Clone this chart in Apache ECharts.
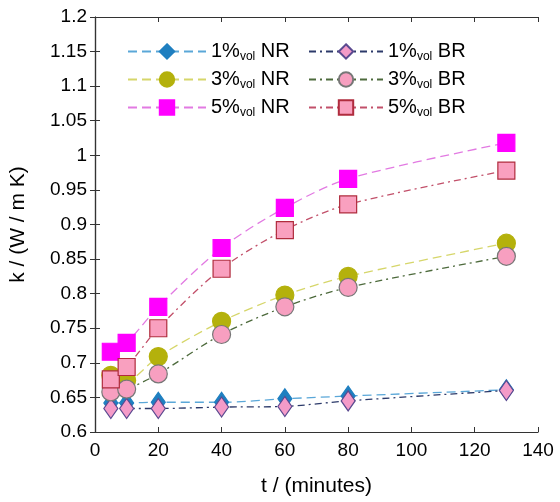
<!DOCTYPE html>
<html>
<head>
<meta charset="utf-8">
<script src="https://cdn.jsdelivr.net/npm/echarts@6/dist/echarts.min.js"></script>
<style>
  html, body { margin: 0; padding: 0; background: #fff; }
  #chart { width: 560px; height: 502px; }
</style>
</head>
<body>
<div id="chart"></div>
<script>
// 时间（分钟）
const times = [5, 10, 20, 40, 60, 80, 130]
// 各浓度导热系数
const nr1 = [0.642, 0.642, 0.643, 0.643, 0.648, 0.652, 0.661]
const nr3 = [0.682, 0.675, 0.709, 0.760, 0.798, 0.825, 0.873]
const nr5 = [0.716, 0.729, 0.781, 0.866, 0.924, 0.966, 1.018]
const br1 = [0.634, 0.634, 0.634, 0.636, 0.637, 0.645, 0.660]
const br3 = [0.658, 0.662, 0.684, 0.741, 0.781, 0.809, 0.854]
const br5 = [0.676, 0.694, 0.750, 0.836, 0.892, 0.929, 0.978]

const font = 'Liberation Sans, Arial, sans-serif'
const pair = (ys) => times.map((t, i) => [t, ys[i]])

const mk = (name, data, symbol, size, fill, border, lineColor, dash) => ({
  name: name,
  type: 'line',
  data: pair(data),
  smooth: 0.3,
  symbol: symbol,
  symbolSize: size,
  itemStyle: { color: fill, borderColor: border, borderWidth: 1.2, opacity: 1 },
  lineStyle: { color: lineColor, width: 1.3, type: dash },
  emphasis: { disabled: true },
  z: 3
})

const longDash = [9, 5]
const dashDot = [7, 4, 2, 4]

const series = [
  mk('1% NR', nr1, 'diamond', [14, 20], '#1f7fc0', '#1f7fc0', '#5aa7d8', longDash),
  mk('3% NR', nr3, 'circle', 18, '#b4b10c', '#b4b10c', '#d6d66a', longDash),
  mk('5% NR', nr5, 'rect', 17, '#ff00ff', '#ff00ff', '#e27ae2', longDash),
  mk('1% BR', br1, 'diamond', [14, 20], '#f49bc8', '#5a4a90', '#2c3a6a', dashDot),
  mk('3% BR', br3, 'circle', 18, '#f79fc0', '#777777', '#4d6a3c', dashDot),
  mk('5% BR', br5, 'rect', 17, '#f9a0bf', '#b02c3e', '#c2506a', dashDot)
]

const legendText = {
  rich: {
    a: { fontFamily: font, fontSize: 20, color: '#000', lineHeight: 22 },
    s: { fontFamily: font, fontSize: 12, color: '#000', padding: [11, 0, 0, 0], lineHeight: 22 }
  }
}
const legendFmt = (name) => {
  const p = name.split(' ')
  return '{a|' + p[0] + '}{s|vol}{a| ' + p[1] + '}'
}

const chart = echarts.init(document.getElementById('chart'))
chart.setOption({
  animation: false,
  backgroundColor: '#fff',
  grid: { left: 91, right: 22, top: 17, bottom: 69 },
  legend: [
    {
      data: ['1% NR', '3% NR', '5% NR'],
      orient: 'vertical', left: 122, top: 35,
      itemWidth: 78, itemHeight: 18, itemGap: 5,
      formatter: legendFmt, textStyle: legendText
    },
    {
      data: ['1% BR', '3% BR', '5% BR'],
      orient: 'vertical', left: 303, top: 35,
      itemWidth: 74, itemHeight: 18, itemGap: 5,
      formatter: legendFmt, textStyle: legendText
    }
  ],
  xAxis: [
    {
      type: 'value', min: 0, max: 140, interval: 20,
      name: 't / (minutes)', nameLocation: 'middle', nameGap: 44,
      nameTextStyle: { fontFamily: font, fontSize: 21, color: '#000' },
      axisLine: { lineStyle: { color: '#333', width: 1.2 } },
      axisTick: { inside: true, length: 5, lineStyle: { color: '#333' } },
      axisLabel: { fontFamily: font, fontSize: 19, color: '#000', margin: 9 },
      splitLine: { show: false }
    },
    {
      type: 'value', min: 0, max: 140, interval: 20, position: 'top',
      axisLine: { show: true, lineStyle: { color: '#333', width: 1.2 } },
      axisTick: { inside: true, length: 5, lineStyle: { color: '#333' } },
      axisLabel: { show: false }, splitLine: { show: false }
    }
  ],
  yAxis: [
    {
      type: 'value', min: 0.6, max: 1.2, interval: 0.05,
      name: 'k / (W / m K)', nameLocation: 'middle', nameGap: 66,
      nameTextStyle: { fontFamily: font, fontSize: 21, color: '#000' },
      axisLine: { show: true, lineStyle: { color: '#333', width: 1.2 } },
      axisTick: { inside: true, length: 5, lineStyle: { color: '#333' } },
      axisLabel: { fontFamily: font, fontSize: 19, color: '#000', margin: 8 },
      splitLine: { show: false }
    },
    {
      type: 'value', min: 0.6, max: 1.2, interval: 0.05, position: 'right',
      axisLine: { show: true, lineStyle: { color: '#333', width: 1.2 } },
      axisTick: { inside: true, length: 5, lineStyle: { color: '#333' } },
      axisLabel: { show: false }, splitLine: { show: false }
    }
  ],
  series: series
})
</script>
</body>
</html>
